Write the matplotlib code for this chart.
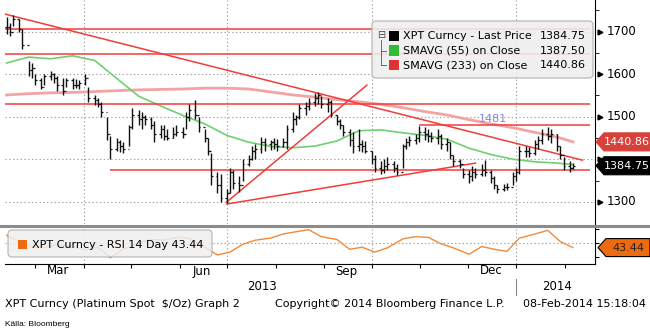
import numpy as np
import pandas as pd
import matplotlib
matplotlib.use("Agg")
import matplotlib.pyplot as plt
import matplotlib.dates as mdates
from matplotlib.patches import Polygon, FancyBboxPatch, Rectangle
from matplotlib.lines import Line2D
from matplotlib.transforms import blended_transform_factory

plt.rcParams['font.family'] = ['DejaVu Sans']

# --- Data: platinum spot, one bar every 2 business days ---
start_date = '2013-02-11'
bar_high = [1735, 1720, 1739, 1730, 1705, 1630, 1625, 1600, 1590, 1600,
            1608, 1603, 1595, 1590, 1590, 1590, 1588, 1585, 1600, 1570,
            1550, 1545, 1535, 1500, 1455, 1450, 1445, 1440, 1480, 1520,
            1515, 1510, 1505, 1500, 1490, 1480, 1480, 1470, 1475, 1480,
            1475, 1510, 1530, 1540, 1500, 1470, 1450, 1415, 1370, 1365,
            1330, 1380, 1375, 1360, 1400, 1410, 1430, 1435, 1452, 1450,
            1445, 1450, 1448, 1450, 1480, 1510, 1505, 1530, 1535, 1545,
            1555, 1558, 1548, 1545, 1540, 1505, 1495, 1480, 1470, 1465,
            1470, 1445, 1442, 1420, 1410, 1395, 1400, 1405, 1395, 1390,
            1435, 1450, 1455, 1460, 1478, 1475, 1470, 1465, 1470, 1460,
            1450, 1440, 1410, 1400, 1380, 1375, 1385, 1380, 1390, 1398,
            1375, 1360, 1340, 1342, 1345, 1370, 1380, 1430, 1430, 1428,
            1445, 1455, 1470, 1475, 1470, 1460, 1430, 1405, 1395, 1392]
bar_low = [1695, 1690, 1712, 1700, 1660, 1595, 1590, 1575, 1565, 1575,
           1585, 1580, 1560, 1550, 1570, 1565, 1568, 1565, 1575, 1535,
           1528, 1522, 1500, 1445, 1400, 1420, 1418, 1415, 1430, 1470,
           1480, 1470, 1480, 1470, 1440, 1450, 1445, 1445, 1450, 1455,
           1450, 1470, 1490, 1495, 1465, 1440, 1410, 1340, 1320, 1300,
           1298, 1320, 1330, 1322, 1350, 1385, 1398, 1400, 1415, 1420,
           1422, 1425, 1420, 1428, 1425, 1465, 1480, 1495, 1505, 1515,
           1525, 1530, 1520, 1510, 1500, 1480, 1470, 1455, 1430, 1415,
           1420, 1418, 1415, 1390, 1370, 1365, 1368, 1375, 1370, 1362,
           1380, 1425, 1430, 1435, 1440, 1445, 1440, 1440, 1435, 1425,
           1420, 1400, 1385, 1380, 1355, 1345, 1350, 1355, 1360, 1360,
           1345, 1330, 1320, 1325, 1328, 1340, 1350, 1365, 1405, 1405,
           1410, 1425, 1435, 1445, 1438, 1420, 1400, 1375, 1370, 1378]
bar_close = [1710, 1700, 1730, 1705, 1668, 1610, 1615, 1585, 1570, 1595,
             1600, 1590, 1575, 1560, 1585, 1575, 1575, 1580, 1590, 1545,
             1540, 1530, 1510, 1460, 1425, 1440, 1430, 1425, 1475, 1505,
             1495, 1500, 1495, 1480, 1460, 1470, 1455, 1450, 1460, 1465,
             1460, 1500, 1515, 1505, 1475, 1450, 1420, 1360, 1340, 1310,
             1320, 1370, 1345, 1340, 1390, 1400, 1420, 1425, 1440, 1435,
             1440, 1435, 1430, 1440, 1470, 1495, 1500, 1520, 1525, 1535,
             1545, 1550, 1530, 1535, 1505, 1490, 1480, 1465, 1445, 1430,
             1435, 1430, 1420, 1400, 1380, 1375, 1385, 1390, 1380, 1370,
             1430, 1440, 1445, 1450, 1465, 1460, 1455, 1450, 1455, 1435,
             1440, 1410, 1395, 1390, 1365, 1360, 1370, 1365, 1375, 1370,
             1355, 1340, 1330, 1335, 1335, 1360, 1370, 1420, 1420, 1415,
             1435, 1445, 1460, 1455, 1460, 1430, 1410, 1385, 1380, 1384.75]

# moving averages, sampled every 5th bar (+ last bar)
sma_idx = list(range(0, 130, 5)) + [129]
sma55 = [1626, 1640, 1636, 1643, 1632, 1590, 1548, 1525, 1503, 1483,
         1456, 1440, 1430, 1427, 1431, 1443, 1467, 1469, 1462, 1456,
         1447, 1426, 1411, 1400, 1394, 1391, 1387.50]
sma233 = [1551, 1554, 1556, 1557, 1559, 1561, 1563, 1564, 1565, 1567,
          1567, 1565, 1558, 1551, 1546, 1540, 1535, 1529, 1521, 1512,
          1504, 1493, 1483, 1474, 1463, 1452, 1440.86]

# RSI 14, sampled every 3rd bar
rsi_idx = list(range(0, 130, 3))
rsi = [61, 52, 45, 44, 47, 45, 40, 44, 29, 41,
       50, 55, 54, 58, 57, 44, 33, 37, 48, 54,
       57, 63, 66, 69, 59, 55, 41, 44, 37, 43,
       56, 59, 58, 49, 43, 34, 45, 41, 38, 57,
       63, 68, 52, 43.44]

# drawn trend lines (dates, prices)
trend_lines = [
    (['2013-02-10', '2014-02-12'], [1741, 1398]),
    (['2013-07-01', '2013-09-28'], [1300, 1574]),
    (['2013-07-01', '2013-12-06'], [1295, 1391]),
]
full_levels = [1705, 1647, 1530]
support_level, support_start = 1374, '2013-04-18'
resist_level, resist_start = 1481, '2013-10-31'
level_end = '2014-02-17'

price_ticks = [1300, 1400, 1500, 1600, 1700]
hidden_tick = 1400  # sits behind the last-price tag
legend_labels = ['XPT Curncy - Last Price', 'SMAVG (55) on Close', 'SMAVG (233) on Close']
legend_values = ['1384.75', '1387.50', '1440.86']
legend_colors = ['black', '#33bb33', '#dd3333']
month_labels = ['Mar', 'Jun', 'Sep', 'Dec']
month_label_dates = ['2013-03-16', '2013-06-15', '2013-09-15', '2013-12-16']
quarter_starts = ['2013-04-01', '2013-07-01', '2013-10-01', '2014-01-01']


def d2n(s):
    return mdates.date2num(pd.Timestamp(s).to_pydatetime())


# --- Figure ---
W, H = 650, 333
fig = plt.figure(figsize=(W / 100, H / 100), dpi=100)
inch = fig.dpi_scale_trans


def P(px, py):  # pixel from left / top -> inches from bottom-left
    return px / 100, (H - py) / 100


ax = fig.add_axes([5 / W, 1 - 224 / H, 590 / W, 224 / H])
ax2 = fig.add_axes([5 / W, 1 - 264 / H, 590 / W, 36 / H], sharex=ax)

dates = pd.bdate_range(start_date, periods=len(bar_close), freq='2B')
xs = mdates.date2num(dates.to_pydatetime())
opens = [bar_close[0]] + bar_close[:-1]

ax.set_xlim(d2n('2013-02-10'), d2n('2014-02-20'))
ax.set_ylim(1248, 1774)
ax2.set_ylim(20, 71.4)

grid_kw = dict(color='#a0a0a0', lw=0.8, ls=(0, (1.2, 2.2)), zorder=0)
for v in price_ticks:
    ax.axhline(v, **grid_kw)
for q in quarter_starts:
    ax.axvline(d2n(q), **grid_kw)
    ax2.axvline(d2n(q), **grid_kw)
ax2.axhline(50, **grid_kw)

# price bars
ax.vlines(xs, bar_low, bar_high, color='#111111', lw=1.0, zorder=3)
ax.hlines(bar_close, xs, xs + 1.1, color='#111111', lw=0.9, zorder=3)
ax.hlines(opens, xs - 1.1, xs, color='#111111', lw=0.9, zorder=3)

# moving averages
ax.plot(xs[sma_idx], sma233, color='#f3a3a3', lw=2.0, zorder=2)
ax.plot(xs[sma_idx], sma55, color='#6fd06f', lw=1.2, zorder=2)

# trend lines and levels
red = '#f23c3c'
for ds, ps in trend_lines:
    ax.plot([d2n(d) for d in ds], ps, color=red, lw=1.1, zorder=2)
for lv in full_levels:
    ax.hlines(lv, ax.get_xlim()[0], d2n(level_end), color=red, lw=1.1, zorder=2)
ax.hlines(support_level, d2n(support_start), d2n(level_end), color=red, lw=1.1, zorder=2)
ax.hlines(resist_level, d2n(resist_start), d2n(level_end), color=red, lw=1.1, zorder=2)
ax.text(d2n('2013-12-17'), resist_level + 1, str(resist_level), color='#8585e0',
        ha='center', va='bottom', fontsize=8, zorder=4)

# RSI
ax2.plot(xs[rsi_idx], rsi, color='#f08a3a', lw=1.0)

# spines / ticks
for a in (ax, ax2):
    a.spines['left'].set_visible(False)
    a.spines['top'].set_visible(False)
    a.spines['right'].set_color('black')
ax.spines['bottom'].set_visible(False)
ax.tick_params(axis='x', which='both', bottom=False, labelbottom=False)
ax.yaxis.tick_right()
ax.set_yticks(price_ticks)
ax.set_yticks([1350, 1450, 1550, 1650, 1750], minor=True)
ax.tick_params(axis='y', which='major', length=0, labelright=False)
ax.tick_params(axis='y', which='minor', length=3, direction='out', color='black')

ax2.yaxis.tick_right()
ax2.set_yticks([30, 50, 70])
ax2.tick_params(axis='y', length=3, direction='out', labelright=False)
ax2.xaxis.set_major_locator(mdates.MonthLocator())
ax2.tick_params(axis='x', length=3, direction='out', labelbottom=False)

ytr = ax.get_yaxis_transform()
for v in price_ticks:
    ax.plot([1.009], [v], marker='>', ms=3.5, color='black', transform=ytr, clip_on=False)
    if v != hidden_tick:
        ax.text(1.019, v, str(v), transform=ytr, ha='left', va='center', fontsize=8.5)

# gray separator between panels
fig.add_artist(Line2D([0, W / 100], [(H - 226) / 100] * 2, transform=inch,
                      color='#8c8c8c', lw=2.2))


def value_tag(axis, value, tip, face, edge, text, tcolor):
    yc = axis.transData.transform((0, value))[1] / fig.dpi
    hh = 0.09
    t = tip / 100
    pts = [(t, yc), (t + 0.08, yc + hh), (W / 100, yc + hh),
           (W / 100, yc - hh), (t + 0.08, yc - hh)]
    fig.add_artist(Polygon(pts, closed=True, transform=inch, fc=face, ec=edge, lw=0.8))
    fig.text((t + 0.08 + W / 100) / 2, yc, text, transform=inch, color=tcolor,
             ha='center', va='center', fontsize=8)


value_tag(ax, 1440.86, 596, '#d8403a', '#d8403a', '1440.86', 'white')
value_tag(ax, 1384.75, 596, 'black', 'black', '1384.75', 'white')
value_tag(ax2, 43.44, 598, '#ee6a10', 'black', '43.44', '#222222')

# main legend box
x0, y0 = P(372, 78)
fig.add_artist(FancyBboxPatch((x0, y0), 2.21, 0.57, transform=inch,
                              boxstyle='round,pad=0,rounding_size=0.04',
                              fc='#efefef', ec='#a8a8a8', lw=0.8, alpha=0.88))
for row, (lab, val, col) in enumerate(zip(legend_labels, legend_values, legend_colors)):
    yy = 36 + row * 14.5
    sx, sy = P(389, yy + 5)
    fig.add_artist(Rectangle((sx, sy), 0.1, 0.1, transform=inch, fc=col, ec='none'))
    fig.text(*P(403, yy), lab, transform=inch, ha='left', va='center', fontsize=8)
    fig.text(*P(586, yy), val, transform=inch, ha='right', va='center', fontsize=8)
fig.text(*P(381, 35), '\u229f', transform=inch, ha='center', va='center', fontsize=7, color='#444444')
fig.add_artist(Line2D([3.81, 3.81], [P(0, 40)[1], P(0, 65)[1]], transform=inch, color='#555555', lw=0.6))
for yy in (51, 65):
    fig.add_artist(Line2D([3.81, 3.86], [P(0, yy)[1]] * 2, transform=inch, color='#555555', lw=0.6))

# RSI legend box
x0, y0 = P(8, 257)
fig.add_artist(FancyBboxPatch((x0, y0), 2.04, 0.27, transform=inch,
                              boxstyle='round,pad=0,rounding_size=0.04',
                              fc='#efefef', ec='#a8a8a8', lw=0.8, alpha=0.85))
sx, sy = P(18, 249)
fig.add_artist(Rectangle((sx, sy), 0.09, 0.09, transform=inch, fc='#ee6a10', ec='none'))
fig.text(*P(32, 244.5), 'XPT Curncy - RSI 14 Day 43.44', transform=inch,
         ha='left', va='center', fontsize=8)

# x labels
btr = blended_transform_factory(ax2.transData, inch)
for lab, d in zip(month_labels, month_label_dates):
    ax2.text(d2n(d), P(0, 271)[1], lab, transform=btr, ha='center', va='center', fontsize=8.5)
fig.text(*P(262, 287), '2013', transform=inch, ha='center', va='center', fontsize=8.5)
fig.text(*P(557, 287), '2014', transform=inch, ha='center', va='center', fontsize=8.5)
ax2.add_artist(Line2D([d2n('2014-01-01')] * 2, [P(0, 279)[1], P(0, 295)[1]], transform=btr,
                      color='#888888', lw=0.8, clip_on=False))

# footer
fig.text(*P(5, 304), 'XPT Curncy (Platinum Spot  $/Oz) Graph 2', transform=inch,
         ha='left', va='center', fontsize=8)
fig.text(*P(275, 304), 'Copyright\u00a9 2014 Bloomberg Finance L.P.', transform=inch,
         ha='left', va='center', fontsize=8)
fig.text(*P(646, 304), '08-Feb-2014 15:18:04', transform=inch,
         ha='right', va='center', fontsize=8)
fig.text(*P(5, 325), 'Källa: Bloomberg', transform=inch, ha='left', va='center',
         fontsize=6, family=['Liberation Sans Narrow', 'Liberation Sans', 'DejaVu Sans'])

fig.savefig('out.png', dpi=100)
